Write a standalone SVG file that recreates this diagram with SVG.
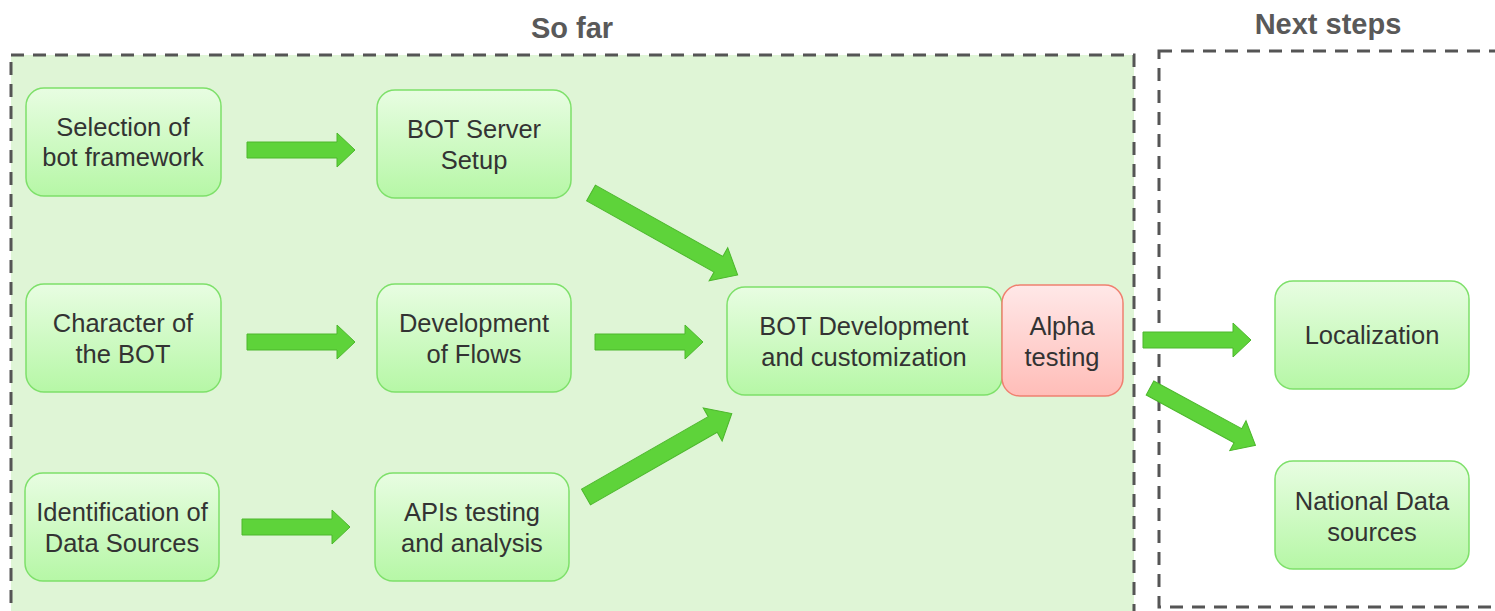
<svg xmlns="http://www.w3.org/2000/svg" width="1495" height="611" viewBox="0 0 1495 611">
<defs>
<linearGradient id="gg" x1="0" y1="0" x2="0" y2="1"><stop offset="0" stop-color="#e8fde2"/><stop offset="1" stop-color="#b6f7a6"/></linearGradient>
<linearGradient id="rg" x1="0" y1="0" x2="0" y2="1"><stop offset="0" stop-color="#ffe8e8"/><stop offset="1" stop-color="#ffbdb8"/></linearGradient>
<path id="arr" d="M0,-8 H90 V-17 L108,0 L90,17 V8 H0 Z"/>
<path id="arrL" d="M0,-9 H146 V-19 L168,0 L146,19 V9 H0 Z"/>
<path id="arrM" d="M0,-8 H100 V-17 L120,0 L100,17 V8 H0 Z"/>
</defs>
<style>
.frame{fill:none;stroke:#555;stroke-width:3;stroke-dasharray:13 9}
.node{fill:url(#gg);stroke:#7ee06a;stroke-width:1.5}
.red{fill:url(#rg);stroke:#f08070;stroke-width:1.5}
.t{font-family:"Liberation Sans",Arial,sans-serif;font-size:25.5px;fill:#333;text-anchor:middle}
.h{font-family:"Liberation Sans",Arial,sans-serif;font-size:29px;font-weight:bold;fill:#595959;text-anchor:middle}
.a{fill:#5ed33a;stroke:#4cb72c;stroke-width:1}
</style>
<rect width="1495" height="611" fill="#fff"/>
<g id="so-far">
<rect x="11" y="55" width="1123" height="570" class="frame" style="fill:#dff5d6"/>
<text class="h" x="572" y="38">So far</text>
</g>
<g id="next-steps">
<rect x="1159" y="51" width="350" height="556" class="frame"/>
<text class="h" x="1328" y="34">Next steps</text>
</g>
<g id="connectors">
<use href="#arr" class="a" transform="translate(247,150)"/>
<use href="#arr" class="a" transform="translate(247,342)"/>
<use href="#arr" class="a" transform="translate(242,527)"/>
<use href="#arr" class="a" transform="translate(595,342)"/>
<use href="#arrL" class="a" transform="translate(591,193) rotate(29.2)"/>
<use href="#arrL" class="a" transform="translate(586,497) rotate(-29.8)"/>
<use href="#arr" class="a" transform="translate(1143,340)"/>
<use href="#arrM" class="a" transform="translate(1150,388) rotate(28.5)"/>
</g>
<g id="n1"><rect class="node" x="26" y="88" width="195" height="108" rx="18"/><text class="t" x="123" y="136">Selection of</text><text class="t" x="123" y="166">bot framework</text></g>
<g id="n2"><rect class="node" x="377" y="90" width="194" height="108" rx="18"/><text class="t" x="474" y="138">BOT Server</text><text class="t" x="474" y="169">Setup</text></g>
<g id="n3"><rect class="node" x="26" y="284" width="195" height="108" rx="18"/><text class="t" x="123" y="332">Character of</text><text class="t" x="123" y="363">the BOT</text></g>
<g id="n4"><rect class="node" x="377" y="284" width="194" height="108" rx="18"/><text class="t" x="474" y="332">Development</text><text class="t" x="474" y="363">of Flows</text></g>
<g id="n5"><rect class="node" x="25" y="473" width="194" height="108" rx="18"/><text class="t" x="122" y="521">Identification of</text><text class="t" x="122" y="552">Data Sources</text></g>
<g id="n6"><rect class="node" x="375" y="473" width="194" height="108" rx="18"/><text class="t" x="472" y="521">APIs testing</text><text class="t" x="472" y="552">and analysis</text></g>
<g id="n7"><rect class="node" x="727" y="287" width="275" height="108" rx="18"/><text class="t" x="864" y="335">BOT Development</text><text class="t" x="864" y="366">and customization</text></g>
<g id="n8"><rect class="red" x="1002" y="285" width="121" height="111" rx="18"/><text class="t" x="1062" y="335">Alpha</text><text class="t" x="1062" y="366">testing</text></g>
<g id="n9"><rect class="node" x="1275" y="281" width="194" height="108" rx="18"/><text class="t" x="1372" y="344">Localization</text></g>
<g id="n10"><rect class="node" x="1275" y="461" width="194" height="108" rx="18"/><text class="t" x="1372" y="510">National Data</text><text class="t" x="1372" y="541">sources</text></g>
</svg>
